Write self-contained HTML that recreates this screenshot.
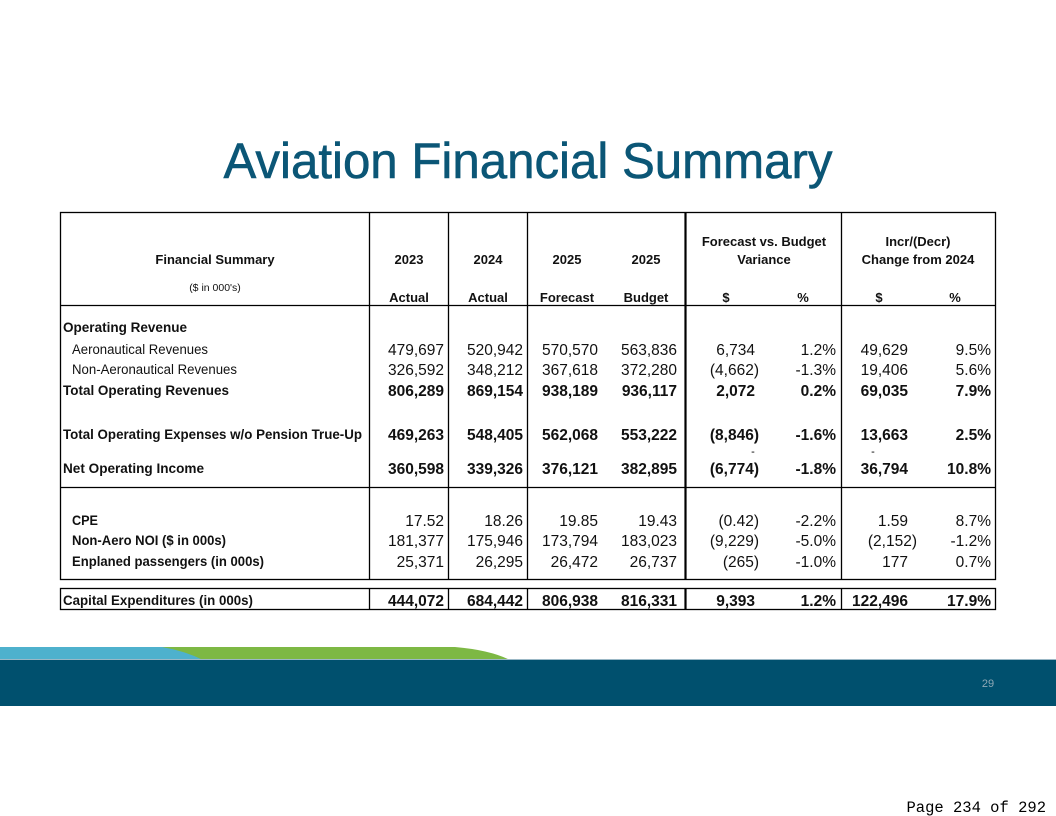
<!DOCTYPE html>
<html><head><meta charset="utf-8"><style>
html,body{margin:0;padding:0;background:#fff;}
svg{display:block;}
text{font-family:"Liberation Sans",sans-serif;}
.n{font-size:15.5px;text-anchor:end;fill:#111;}
.b{font-weight:bold;}
.l{font-size:13.5px;fill:#111;}
.h{font-size:13px;font-weight:bold;fill:#111;text-anchor:middle;}
</style></head><body>
<svg width="1056" height="816" viewBox="0 0 1056 816">
<text x="528" y="178" font-size="50" fill="#0b5676" text-anchor="middle" textLength="609" lengthAdjust="spacingAndGlyphs" stroke="#0b5676" stroke-width="0.6">Aviation Financial Summary</text>

<g stroke="#000" stroke-width="1.3" fill="none">
<rect x="60.5" y="212.5" width="935" height="367"/>
<line x1="60" y1="305.5" x2="995" y2="305.5"/>
<line x1="60" y1="487.5" x2="995" y2="487.5"/>
<line x1="369.5" y1="212" x2="369.5" y2="580"/>
<line x1="448.5" y1="212" x2="448.5" y2="580"/>
<line x1="527.5" y1="212" x2="527.5" y2="580"/>
<line x1="685.5" y1="212" x2="685.5" y2="580" stroke-width="2.2"/>
<line x1="841.5" y1="212" x2="841.5" y2="580"/>
<rect x="60.5" y="588.5" width="935" height="21"/>
<line x1="369.5" y1="588" x2="369.5" y2="609"/>
<line x1="448.5" y1="588" x2="448.5" y2="609"/>
<line x1="527.5" y1="588" x2="527.5" y2="609"/>
<line x1="685.5" y1="588" x2="685.5" y2="609" stroke-width="2.2"/>
<line x1="841.5" y1="588" x2="841.5" y2="609"/>
</g>

<text class="h" x="215" y="264">Financial Summary</text>
<text x="215" y="291" font-size="10.5" text-anchor="middle" fill="#111">($ in 000's)</text>
<text class="h" x="409" y="264">2023</text>
<text class="h" x="488" y="264">2024</text>
<text class="h" x="567" y="264">2025</text>
<text class="h" x="646" y="264">2025</text>
<text class="h" x="409" y="302">Actual</text>
<text class="h" x="488" y="302">Actual</text>
<text class="h" x="567" y="302">Forecast</text>
<text class="h" x="646" y="302">Budget</text>
<text class="h" x="764" y="246">Forecast vs. Budget</text>
<text class="h" x="764" y="264">Variance</text>
<text class="h" x="918" y="246">Incr/(Decr)</text>
<text class="h" x="918" y="264">Change from 2024</text>
<text class="h" x="726" y="302">$</text>
<text class="h" x="803" y="302">%</text>
<text class="h" x="879" y="302">$</text>
<text class="h" x="955" y="302">%</text>

<text class="l b" x="63" y="332" textLength="124" lengthAdjust="spacingAndGlyphs">Operating Revenue</text>
<text class="l" x="72" y="354" textLength="136" lengthAdjust="spacingAndGlyphs">Aeronautical Revenues</text>
<text class="l" x="72" y="374" textLength="165" lengthAdjust="spacingAndGlyphs">Non-Aeronautical Revenues</text>
<text class="l b" x="63" y="395" textLength="166" lengthAdjust="spacingAndGlyphs">Total Operating Revenues</text>
<text class="l b" x="63" y="439" textLength="299" lengthAdjust="spacingAndGlyphs">Total Operating Expenses w/o Pension True-Up</text>
<text class="l b" x="63" y="473" textLength="141" lengthAdjust="spacingAndGlyphs">Net Operating Income</text>
<text class="l b" x="72" y="525" textLength="26" lengthAdjust="spacingAndGlyphs">CPE</text>
<text class="l b" x="72" y="545" textLength="154" lengthAdjust="spacingAndGlyphs">Non-Aero NOI ($ in 000s)</text>
<text class="l b" x="72" y="566" textLength="192" lengthAdjust="spacingAndGlyphs">Enplaned passengers (in 000s)</text>
<text class="l b" x="63" y="605" textLength="190" lengthAdjust="spacingAndGlyphs">Capital Expenditures (in 000s)</text>

<g class="n">
<text x="444" y="355">479,697</text><text x="523" y="355">520,942</text><text x="598" y="355">570,570</text><text x="677" y="355">563,836</text>
<text x="755" y="355">6,734</text><text x="836" y="355">1.2%</text><text x="908" y="355">49,629</text><text x="991" y="355">9.5%</text>
<text x="444" y="375">326,592</text><text x="523" y="375">348,212</text><text x="598" y="375">367,618</text><text x="677" y="375">372,280</text>
<text x="759" y="375">(4,662)</text><text x="836" y="375">-1.3%</text><text x="908" y="375">19,406</text><text x="991" y="375">5.6%</text>
</g>
<g class="n b">
<text x="444" y="396">806,289</text><text x="523" y="396">869,154</text><text x="598" y="396">938,189</text><text x="677" y="396">936,117</text>
<text x="755" y="396">2,072</text><text x="836" y="396">0.2%</text><text x="908" y="396">69,035</text><text x="991" y="396">7.9%</text>
<text x="444" y="440">469,263</text><text x="523" y="440">548,405</text><text x="598" y="440">562,068</text><text x="677" y="440">553,222</text>
<text x="759" y="440">(8,846)</text><text x="836" y="440">-1.6%</text><text x="908" y="440">13,663</text><text x="991" y="440">2.5%</text>
<text x="444" y="474">360,598</text><text x="523" y="474">339,326</text><text x="598" y="474">376,121</text><text x="677" y="474">382,895</text>
<text x="759" y="474">(6,774)</text><text x="836" y="474">-1.8%</text><text x="908" y="474">36,794</text><text x="991" y="474">10.8%</text>
</g>
<text x="753" y="455" font-size="11" text-anchor="middle">-</text>
<text x="873" y="455" font-size="11" text-anchor="middle">-</text>
<g class="n">
<text x="444" y="526">17.52</text><text x="523" y="526">18.26</text><text x="598" y="526">19.85</text><text x="677" y="526">19.43</text>
<text x="759" y="526">(0.42)</text><text x="836" y="526">-2.2%</text><text x="908" y="526">1.59</text><text x="991" y="526">8.7%</text>
<text x="444" y="546">181,377</text><text x="523" y="546">175,946</text><text x="598" y="546">173,794</text><text x="677" y="546">183,023</text>
<text x="759" y="546">(9,229)</text><text x="836" y="546">-5.0%</text><text x="917" y="546">(2,152)</text><text x="991" y="546">-1.2%</text>
<text x="444" y="567">25,371</text><text x="523" y="567">26,295</text><text x="598" y="567">26,472</text><text x="677" y="567">26,737</text>
<text x="759" y="567">(265)</text><text x="836" y="567">-1.0%</text><text x="908" y="567">177</text><text x="991" y="567">0.7%</text>
</g>
<g class="n b">
<text x="444" y="606">444,072</text><text x="523" y="606">684,442</text><text x="598" y="606">806,938</text><text x="677" y="606">816,331</text>
<text x="755" y="606">9,393</text><text x="836" y="606">1.2%</text><text x="908" y="606">122,496</text><text x="991" y="606">17.9%</text>
</g>

<path d="M150 647 L455 647 Q490 650 510 660 L150 660 Z" fill="#7db844"/>
<path d="M0 647 L162 647 Q185 651 203 660 L0 660 Z" fill="#4eb1cd"/>
<rect x="0" y="659" width="1056" height="1" fill="#9bb8c6"/>
<rect x="0" y="660" width="1056" height="46" fill="#00506e"/>
<text x="988" y="687" font-size="11" fill="#8fa9b6" text-anchor="middle">29</text>
<text x="1046" y="812" font-size="15.5" fill="#000" text-anchor="end" style="font-family:'Liberation Mono',monospace">Page 234 of 292</text>
</svg>
</body></html>
